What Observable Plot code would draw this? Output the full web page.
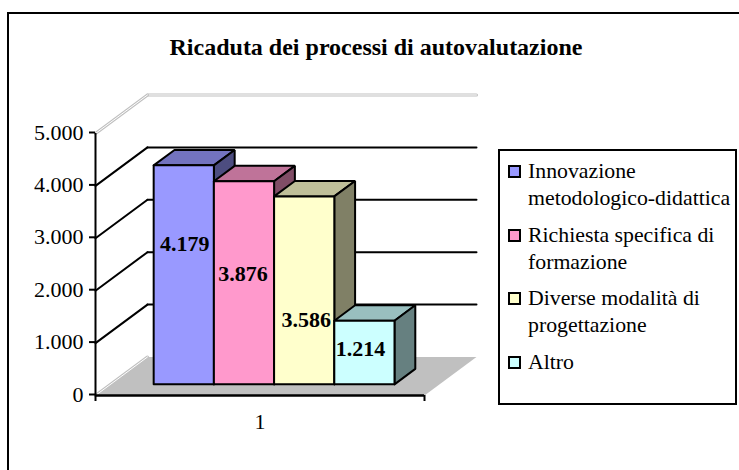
<!DOCTYPE html>
<html>
<head>
<meta charset="utf-8">
<script src="https://cdn.jsdelivr.net/npm/d3@7"></script>
<script src="https://cdn.jsdelivr.net/npm/@observablehq/plot@0.6"></script>
<style>
  html, body { margin: 0; padding: 0; background: #fff; overflow: hidden; }
  #page { position: relative; width: 739px; height: 470px; overflow: hidden; font-family: "Liberation Serif", serif; color: #000; }
  #frame { position: absolute; left: 7px; top: 12px; right: -10px; bottom: -10px; border: 2px solid #000; box-sizing: border-box; }
  #chart { position: absolute; left: 0; top: 0; }
  #chart svg { display: block; }
  #title { position: absolute; left: 0; width: 752px; top: 33px; text-align: center; font-weight: bold; font-size: 24px; line-height: 28px; white-space: nowrap; }
  #legend { position: absolute; left: 498px; top: 149px; width: 239px; height: 256px; box-sizing: border-box; border: 2px solid #000; background: #fff; }
  .entry { position: absolute; left: 8px; white-space: pre; font-size: 21.8px; line-height: 27px; }
  .swatch { position: absolute; left: 0; top: 7px; width: 13px; height: 13px; box-sizing: border-box; border: 2px solid #000; }
  .entry span { display: block; margin-left: 20px; }
</style>
</head>
<body>
<div id="page">
  <div id="frame"></div>
  <div id="chart"></div>
  <div id="title"></div>
  <div id="legend"></div>
</div>
<script>
const chartTitle = "Ricaduta dei processi di autovalutazione";
const categories = ["1"];
const seriesNames = ["Innovazione\nmetodologico-didattica", "Richiesta specifica di\nformazione", "Diverse modalità di\nprogettazione", "Altro"];
const seriesValues = [4179, 3876, 3586, 1214];
const seriesColors = ["#9999ff", "#ff99cc", "#ffffcc", "#ccffff"];
const topColors = ["#7373bf", "#bf7399", "#bfbf99", "#99bfbf"];
const sideColors = ["#4d4d80", "#804d66", "#808066", "#668080"];
const yTicks = [0, 1000, 2000, 3000, 4000, 5000];

const fmt = d3.formatLocale({decimal: ",", thousands: ".", grouping: [3], currency: ["", ""]}).format(",");

// oblique projection: depth 0 = front plane, depth 1 = back wall
const DX = 0.158, DY = 735;
const project = (u, v, d) => ({x: u + d * DX, y: v + d * DY});
const poly = (pts) => { const p = pts.map(([u, v, d]) => project(u, v, d)); return [...p, p[0]]; };

const barStart = 0.131, barWidth = 0.183, d0 = 0.29, d1 = 0.69;
const labelLift = [0.64, 0.545, 0.34, 0.55];
const labelDx = [1, -1, 2, -4];

const outline = {x: "x", y: "y", stroke: "#000", strokeWidth: 2, strokeLinejoin: "miter"};

const wallLine = (pts, color, w) => Plot.line(pts, {x: "x", y: "y", stroke: color, strokeWidth: w});
const backLine = (v) => [project(0, v, 1), project(1, v, 1)];
const sideLine = (v) => [project(0, v, 0), project(0, v, 1)];

const barMarks = seriesValues.flatMap((v, i) => {
  const a = barStart + i * barWidth, b = a + barWidth;
  return [
    Plot.line(poly([[a, v, d0], [b, v, d0], [b, v, d1], [a, v, d1]]), {...outline, fill: topColors[i]}),
    Plot.line(poly([[b, 0, d0], [b, v, d0], [b, v, d1], [b, 0, d1]]), {...outline, fill: sideColors[i]}),
    Plot.line(poly([[a, 0, d0], [b, 0, d0], [b, v, d0], [a, v, d0]]), {...outline, fill: seriesColors[i]})
  ];
});

const labelMarks = seriesValues.map((v, i) => {
  const c = project(barStart + (i + 0.5) * barWidth, v * labelLift[i], d0);
  return Plot.text([c], {x: "x", y: "y", text: () => fmt(v), dx: labelDx[i], fontSize: 22, fontWeight: "bold", fill: "#000", stroke: null});
});

const plot = Plot.plot({
  width: 739,
  height: 470,
  marginLeft: 95,
  marginRight: 315,
  marginTop: 133,
  marginBottom: 75,
  style: {fontFamily: "'Liberation Serif', serif", background: "transparent", color: "#000", overflow: "visible"},
  x: {type: "linear", domain: [0, 1], axis: null},
  y: {type: "linear", domain: [0, 5000], axis: null},
  marks: [
    // floor
    Plot.line(poly([[0, 0, 0], [1, 0, 0], [1, 0, 1], [0, 0, 1]]), {x: "x", y: "y", fill: "#c0c0c0", stroke: "none"}),
    // grid lines on the walls
    ...yTicks.slice(1, 5).flatMap((v) => [
      wallLine(backLine(v), "#000", 2),
      wallLine(sideLine(v), "#000", 2)
    ]),
    wallLine(backLine(5000), "#c0c0c0", 3),
    wallLine(backLine(5000), "#fff", 1),
    wallLine(sideLine(5000), "#c0c0c0", 3),
    wallLine(sideLine(5000), "#fff", 1),
    wallLine(sideLine(0), "#c0c0c0", 3),
    wallLine(sideLine(0), "#fff", 1),
    ...barMarks,
    ...labelMarks,
    // axes
    Plot.ruleX([0], {y1: 0, y2: 5000, stroke: "#000", strokeWidth: 2}),
    Plot.ruleY([0], {x1: 0, x2: 1, stroke: "#000", strokeWidth: 2.5}),
    Plot.axisY({ticks: yTicks, tickSize: 6, tickPadding: 6, tickFormat: fmt, fontSize: 22, dy: -1, label: null, strokeWidth: 2, stroke: "#000", fill: "#000"}),
    Plot.axisX({ticks: [0, 1], tickSize: 6, tickFormat: () => "", label: null, strokeWidth: 2, stroke: "#000"}),
    Plot.axisX({ticks: [0.5], tickSize: 0, tickPadding: 18, tickFormat: () => categories[0], fontSize: 22, label: null, fill: "#000"})
  ]
});
document.getElementById("chart").appendChild(plot);
document.getElementById("title").textContent = chartTitle;

const entryTops = [7, 71, 134, 198];
const legend = document.getElementById("legend");
seriesNames.forEach((name, i) => {
  const e = document.createElement("div");
  e.className = "entry";
  e.style.top = entryTops[i] + "px";
  const s = document.createElement("div");
  s.className = "swatch";
  s.style.background = seriesColors[i];
  const t = document.createElement("span");
  t.textContent = name;
  e.append(s, t);
  legend.appendChild(e);
});
</script>
</body>
</html>
